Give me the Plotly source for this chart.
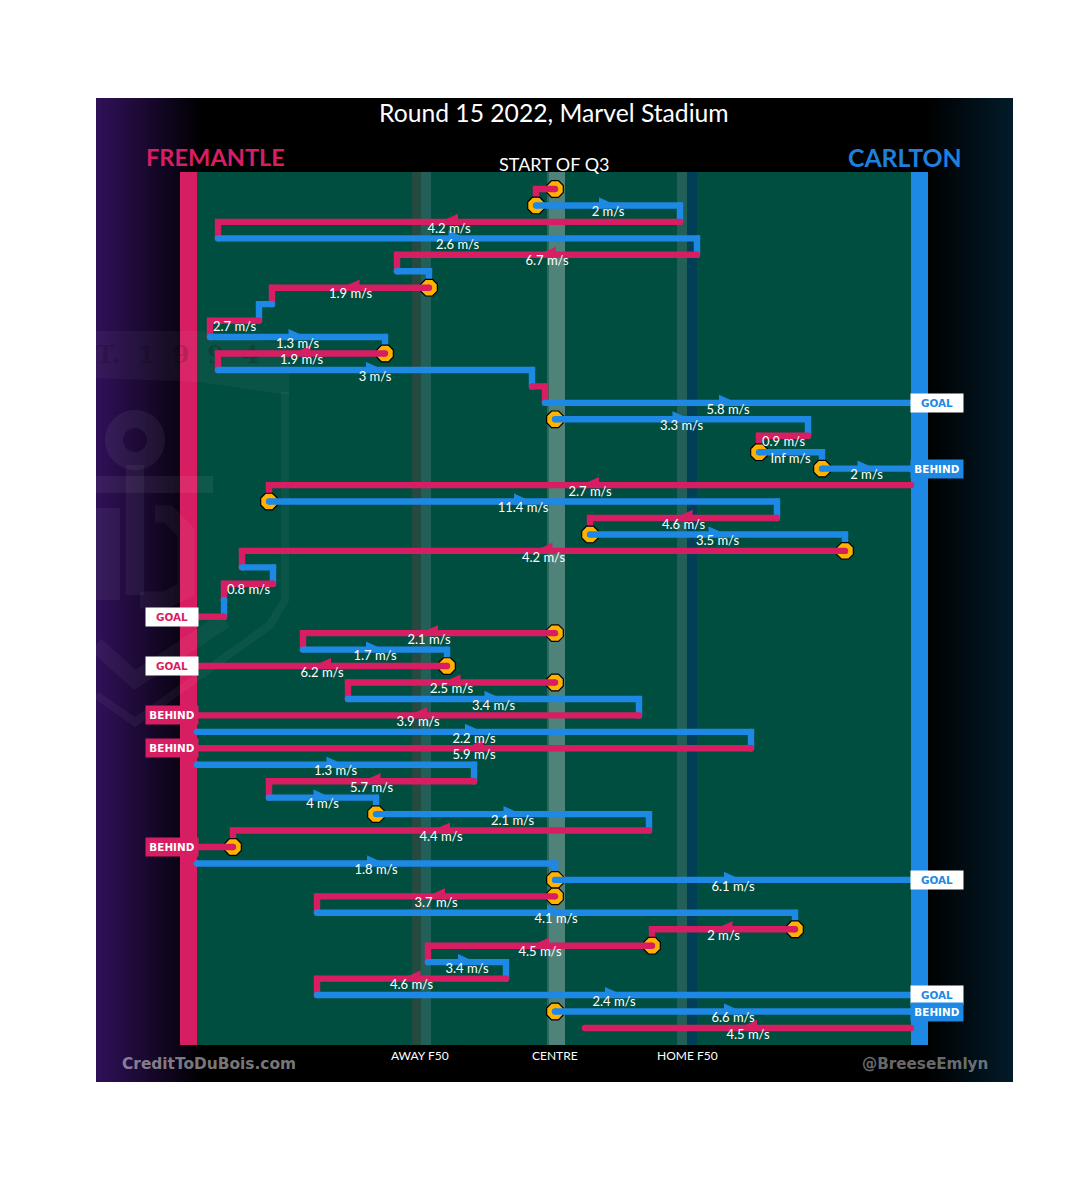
import plotly.graph_objects as go

# ---- data (x in field units from centre, y = row of the play chain) ----
team = list("FCFCFCFCFCFCFCCFCCFCFCFCFCFFCFFCFCFCFCCFFCCFCFFCFCCF")
x_start = [0, -19, 125, -337, 142, -158, -126, -283, -296, -345, -170, -337, -23, -10, 0, 253, 204, 267,
           356, -286, 222, 35, 290, -313, -282, -331, -331, 0, -252, -108, 0, -207, 84, -358, 196, -358,
           -81, -286, -179, 94, -322, -358, 0, 0, -238, 240, 97, -127, -49, -238, 0, 356]
x_end = [-19, 125, -337, 142, -158, -126, -283, -296, -345, -170, -337, -23, -10, 356, 253, 204, 267, 356,
         -286, 222, 35, 290, -313, -282, -331, -331, -358, -252, -108, -358, -207, 84, -358, 196, -358, -81,
         -286, -179, 94, -322, -358, 0, 356, -238, 240, 97, -127, -49, -238, 356, 356, 30]
speed = ["", "2 m/s", "4.2 m/s", "2.6 m/s", "6.7 m/s", "", "1.9 m/s", "", "2.7 m/s", "1.3 m/s", "1.9 m/s",
         "3 m/s", "", "5.8 m/s", "3.3 m/s", "0.9 m/s", "Inf m/s", "2 m/s", "2.7 m/s", "11.4 m/s", "4.6 m/s",
         "3.5 m/s", "4.2 m/s", "", "0.8 m/s", "", "", "2.1 m/s", "1.7 m/s", "6.2 m/s", "2.5 m/s", "3.4 m/s",
         "3.9 m/s", "2.2 m/s", "5.9 m/s", "1.3 m/s", "5.7 m/s", "4 m/s", "2.1 m/s", "4.4 m/s", "", "1.8 m/s",
         "6.1 m/s", "3.7 m/s", "4.1 m/s", "2 m/s", "4.5 m/s", "3.4 m/s", "4.6 m/s", "2.4 m/s", "6.6 m/s", "4.5 m/s"]
start_rows = [0, 1, 6, 10, 14, 16, 17, 19, 21, 22, 27, 29, 30, 38, 40, 42, 43, 45, 46, 50]
outcomes = {13: "GOAL", 17: "BEHIND", 26: "GOAL", 29: "GOAL", 32: "BEHIND", 34: "BEHIND",
            40: "BEHIND", 42: "GOAL", 49: "GOAL", 50: "BEHIND"}
axis_labels = ["AWAY F50", "CENTRE", "HOME F50"]
axis_label_x = [-135, 0, 132]
home_name, away_name = "CARLTON", "FREMANTLE"
title_text = "Round 15 2022, Marvel Stadium"
quarter_text = "START OF Q3"
credit_left, credit_right = "CreditToDuBois.com", "@BreeseEmlyn"
crest_text = "T.  1  9  9  4"

RED, BLUE, YEL = "#d81e62", "#1e88e5", "#ffb300"
FONT = "Lato"
CX, R0, DR = 555, 189, 16.45


def px(v):
    return v - CX


def py(v):
    return (v - R0) / DR


shapes = []


def rect(x0, x1, y0, y1, color, opacity=1):
    shapes.append(dict(type="rect", xref="x", yref="y", x0=px(x0), x1=px(x1), y0=py(y0), y1=py(y1),
                       fillcolor=color, opacity=opacity, line_width=0, layer="below"))


def blend(c0, c1, t):
    return "rgb(%d,%d,%d)" % tuple(round(a + (b - a) * t) for a, b in zip(c0, c1))


# panel gradients
for s in range(96, 204, 3):
    rect(s, s + 3, 98, 1082, blend((47, 16, 88), (0, 0, 0), (s - 96) / 105))
for s in range(925, 1013, 3):
    rect(s, s + 3, 98, 1082, blend((0, 0, 0), (2, 28, 42), (s - 925) / 88))

# field
rect(197, 911, 172, 1045, "#004e40")
rect(412, 421, 172, 1045, "#254a40")
rect(421, 431, 172, 1045, "#215f58")
rect(547, 549, 172, 1045, "#2c6a5d")
rect(549, 565, 172, 1045, "#4f8278")
rect(677, 687, 172, 1045, "#215f58")
rect(687, 697, 172, 1045, "#003f55")
rect(180, 197, 172, 1045, RED)
rect(911, 928, 172, 1045, BLUE)


def stroke(points, width, opacity=0.04, color="#ffffff"):
    path = "M" + " L".join(f"{px(a)},{py(b)}" for a, b in points)
    shapes.append(dict(type="path", xref="x", yref="y", path=path, opacity=opacity,
                       line=dict(color=color, width=width), layer="below"))


# faint club crest behind the left of the chart
rect(96, 213, 476, 493, "#ffffff", 0.06)
rect(126, 144, 465, 595, "#ffffff", 0.05)
rect(96, 120, 508, 600, "#ffffff", 0.05)
stroke([(155, 514), (168, 514), (186, 532), (186, 590), (165, 600), (140, 600)], 17)
stroke([(285, 392), (285, 600), (270, 625), (135, 722), (96, 695)], 8)
stroke([(96, 645), (135, 680), (225, 620)], 16)
shapes.append(dict(type="path", xref="x", yref="y", opacity=0.04, line_width=0, fillcolor="#ffffff", layer="below",
                   path="M" + " L".join(f"{px(a)},{py(b)}" for a, b in
                                        [(96, 331), (200, 331), (289, 345), (289, 395), (200, 382), (96, 378)]) + " Z"))
shapes.append(dict(type="circle", xref="x", yref="y", x0=px(114), x1=px(156), y0=py(419), y1=py(461),
                   line=dict(color="#ffffff", width=18), fillcolor="rgba(0,0,0,0)", opacity=0.05, layer="below"))

fig = go.Figure()

# crest lettering sits under all the marks
fig.add_trace(go.Scatter(x=[px(96)], y=[py(357)], text=[f"<b>{crest_text}</b>"], mode="text", hoverinfo="skip",
                         textposition="middle right", cliponaxis=True,
                         textfont=dict(family="DejaVu Serif", size=25, color="rgba(0,0,0,0.16)")))

# play chain, drawn in order so later rows sit on earlier ones
for i, (t, a, b) in enumerate(zip(team, x_start, x_end)):
    if i in start_rows:
        fig.add_trace(go.Scatter(x=[a], y=[i], mode="markers", hoverinfo="skip",
                                 marker=dict(symbol="octagon", size=18, color=YEL,
                                             line=dict(color="#000000", width=1.2))))
    xs, ys = [a, b], [i, i]
    if i not in outcomes and i + 1 < len(team):
        xs.append(b)
        ys.append(i + 1)
    col = RED if t == "F" else BLUE
    fig.add_trace(go.Scatter(x=xs, y=ys, mode="lines+markers", hoverinfo="skip",
                             line=dict(color=col, width=6.4),
                             marker=dict(symbol="circle", size=6.4, color=col, line_width=0)))

# direction wedges
for tm, col in (("F", RED), ("C", BLUE)):
    ax, ay = [], []
    for i, (t, a, b) in enumerate(zip(team, x_start, x_end)):
        if t == tm and speed[i] and abs(b - a) > 70:
            mid, d = (a + b) / 2, (1 if b > a else -1)
            base, tip = mid - d * 9, mid + d * 7
            ax += [base, tip, base, None]
            ay += [i - 0.46, i - 0.02, i + 0.18, None]
    fig.add_trace(go.Scatter(x=ax, y=ay, mode="lines", fill="toself", fillcolor=col, hoverinfo="skip",
                             line=dict(color=col, width=1)))

# speed labels
lab = [i for i, s in enumerate(speed) if s]
fig.add_trace(go.Scatter(x=[(x_start[i] + x_end[i]) / 2 for i in lab], y=[i + 0.45 for i in lab],
                         text=[speed[i] for i in lab], mode="text", hoverinfo="skip",
                         textposition="middle center",
                         textfont=dict(family=FONT, size=13, color="#ffffff")))

ann = []
for row, kind in outcomes.items():
    side = -1 if x_end[row] < 0 else 1
    col = RED if side < 0 else BLUE
    goal = kind == "GOAL"
    ann.append(dict(x=px(172) if side < 0 else px(937), y=row, xref="x", yref="y", text=f"<b>{kind}</b>",
                    showarrow=False, width=52, height=18, align="center", valign="middle",
                    bgcolor="#ffffff" if goal else col, borderpad=0,
                    font=dict(family="DejaVu Sans", size=10.4, color=col if goal else "#ffffff")))


def text(x, y, s, size, color="#ffffff", family=FONT, bold=False):
    ann.append(dict(x=px(x), y=py(y), xref="x", yref="y", text=f"<b>{s}</b>" if bold else s, showarrow=False,
                    font=dict(family=family, size=size, color=color), xanchor="center", yanchor="middle"))


text(554, 112, title_text, 24.7)
text(554, 164, quarter_text, 18)
text(215.5, 157, away_name, 23.6, RED, bold=True)
text(904.5, 157, home_name, 24.8, "#1e80dc", bold=True)
for lbl, xv in zip(axis_labels, axis_label_x):
    ann.append(dict(x=xv, y=py(1055), xref="x", yref="y", text=lbl, showarrow=False,
                    font=dict(family=FONT, size=12, color="#ffffff")))
text(208.5, 1064, credit_left, 15.4, "rgba(255,255,255,0.48)", "DejaVu Sans", True)
text(924.5, 1064, credit_right, 15.2, "rgba(255,255,255,0.42)", "DejaVu Sans", True)

fig.update_layout(
    width=1080, height=1195, autosize=False,
    margin=dict(l=96, r=67, t=98, b=113, pad=0),
    paper_bgcolor="#ffffff", plot_bgcolor="#000000", showlegend=False,
    xaxis=dict(range=[px(96), px(1013)], visible=False, fixedrange=True),
    yaxis=dict(range=[py(1082), py(98)], visible=False, fixedrange=True),
    shapes=shapes, annotations=ann,
)
fig.write_html("out.html", config={"displayModeBar": False}, post_script="document.body.style.margin='0';")
